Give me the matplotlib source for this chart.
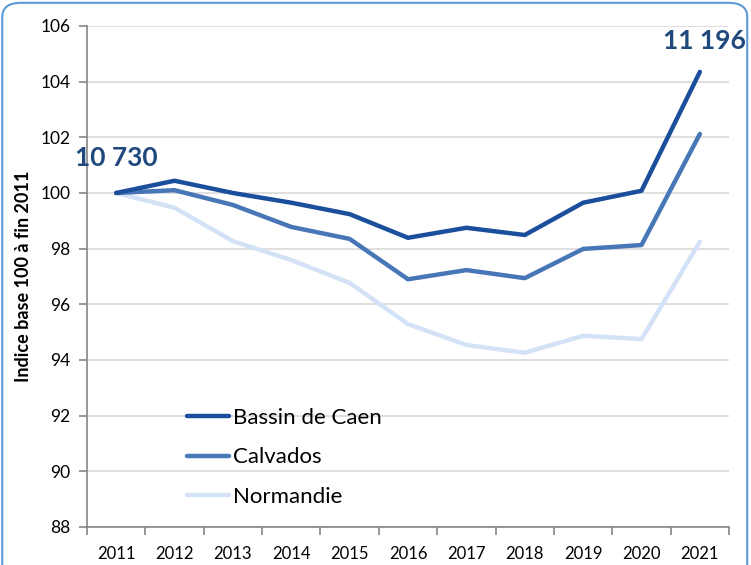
import matplotlib
matplotlib.use("Agg")
import matplotlib.pyplot as plt
from matplotlib.patches import FancyBboxPatch
import numpy as np

plt.rcParams['font.family'] = ['Lato', 'DejaVu Sans']

years = ['2011', '2012', '2013', '2014', '2015', '2016', '2017', '2018', '2019', '2020', '2021']
bassin_caen = [100.0, 100.44, 100.0, 99.65, 99.24, 98.39, 98.75, 98.49, 99.65, 100.08, 104.35]
calvados = [100.0, 100.1, 99.57, 98.78, 98.35, 96.9, 97.23, 96.94, 97.99, 98.13, 102.12]
normandie = [100.0, 99.47, 98.27, 97.59, 96.77, 95.29, 94.54, 94.26, 94.87, 94.75, 98.25]
label_start = '10 730'
label_end = '11 196'

fig = plt.figure(figsize=(7.51, 5.65), dpi=100)
ax = fig.add_axes([0.1158, 0.0673, 0.855, 0.8867])

x = np.arange(len(years))
ax.plot(x, normandie, color='#d3e2f6', lw=3.2, solid_capstyle='round', label='Normandie', zorder=3)
ax.plot(x, calvados, color='#4777b7', lw=3.2, solid_capstyle='round', label='Calvados', zorder=4)
ax.plot(x, bassin_caen, color='#1b4f9c', lw=3.2, solid_capstyle='round', label='Bassin de Caen', zorder=5)

ax.set_xlim(-0.5, len(years) - 0.5)
ax.set_ylim(88, 106)
ax.set_yticks(np.arange(88, 107, 2))
ax.yaxis.grid(True, color='#d9d9d9', lw=1.2)
ax.set_axisbelow(True)

ax.set_xticks(x)
ax.set_xticklabels(years)
ax.set_xticks(np.arange(-0.5, len(years), 1), minor=True)
ax.tick_params(axis='x', which='major', length=0, pad=14, labelsize=12)
ax.tick_params(axis='x', which='minor', length=6, color='#868686', width=1.2)
ax.tick_params(axis='y', length=6, color='#868686', width=1.2, labelsize=12.5, pad=6)

for side in ['top', 'right']:
    ax.spines[side].set_visible(False)
for side in ['left', 'bottom']:
    ax.spines[side].set_color('#868686')
    ax.spines[side].set_linewidth(1.2)

ax.set_ylabel('Indice base 100 à fin 2011', fontsize=13, fontweight='bold', labelpad=6)

ax.text(0, 101.25, label_start, color='#1f497d', fontsize=19, fontweight='bold', ha='center', va='center')
ax.text(10.08, 105.45, label_end, color='#1f497d', fontsize=19, fontweight='bold', ha='center', va='center')

handles, labels = ax.get_legend_handles_labels()
ax.legend(handles[::-1], labels[::-1], loc='lower left', bbox_to_anchor=(0.125, 0.0),
          frameon=False, fontsize=16, handlelength=1.9, handletextpad=0.15, labelspacing=0.88)

fig.patches.append(FancyBboxPatch((0.003, -0.05), 0.992, 1.045, boxstyle='round,pad=0,rounding_size=0.025',
                                  transform=fig.transFigure, fill=False, edgecolor='#5b9bd5', lw=1.5))

fig.savefig('out.png', dpi=100)
